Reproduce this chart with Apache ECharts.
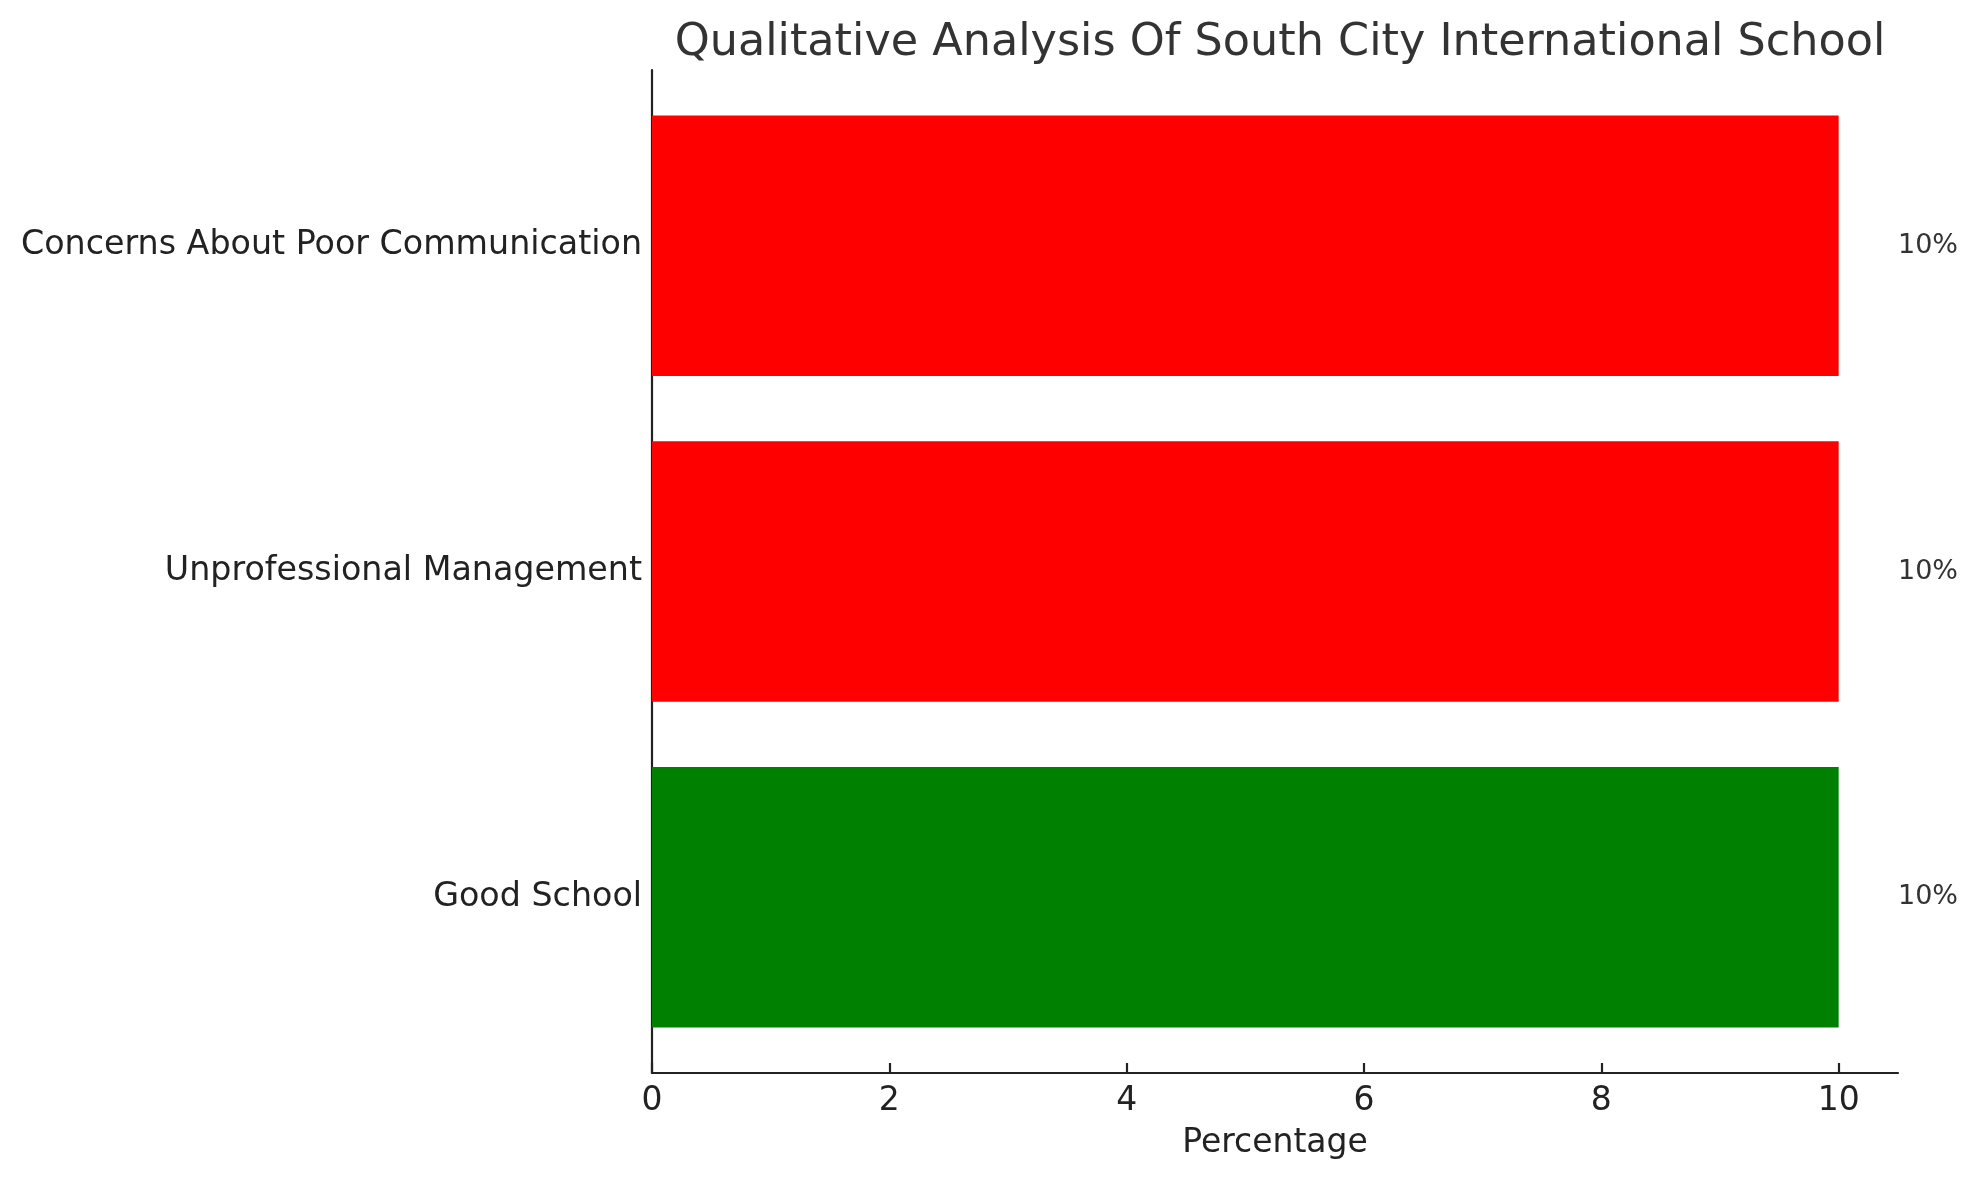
<!DOCTYPE html>
<html>
<head>
<meta charset="utf-8">
<script src="https://cdn.jsdelivr.net/npm/echarts@6/dist/echarts.min.js"></script>
<style>
  html, body { margin: 0; padding: 0; background: #fff; }
  #chart { width: 1979px; height: 1180px; }
</style>
</head>
<body>
<div id="chart"></div>
<script>
// bottom to top, like matplotlib barh
const categories = ['Good School', 'Unprofessional Management', 'Concerns About Poor Communication'];
const percentages = [10, 10, 10];
const barColors = ['#008000', '#ff0000', '#ff0000'];
const xTicks = [0, 2, 4, 6, 8, 10];

const chart = echarts.init(document.getElementById('chart'));
const font = 'DejaVu Sans';

const data = percentages.map((v, i) => ({ value: [v, i], itemStyle: { color: barColors[i] } }));

chart.setOption({
  animation: false,
  title: {
    text: 'Qualitative Analysis Of South City International School',
    left: 1275, top: 16, textAlign: 'center',
    textStyle: { fontFamily: font, fontSize: 44.5, fontWeight: 'normal', color: '#333' }
  },
  grid: { left: 652, right: 81, top: 70, bottom: 107, containLabel: false },
  xAxis: {
    type: 'value', min: 0, max: 10.5,
    name: 'Percentage', nameLocation: 'middle', nameGap: 54,
    nameTextStyle: { fontFamily: font, fontSize: 33, color: '#222' },
    splitLine: { show: false },
    axisLine: { show: true, onZero: false, lineStyle: { color: '#222', width: 2.2 } },
    axisTick: { show: true, inside: true, length: 10, customValues: xTicks, lineStyle: { color: '#222', width: 2.2 } },
    axisLabel: { customValues: xTicks, margin: 12, fontFamily: font, fontSize: 33, color: '#222' }
  },
  yAxis: {
    type: 'value', min: -0.54, max: 2.54,
    splitLine: { show: false },
    axisLine: { show: true, onZero: false, lineStyle: { color: '#222', width: 2.2 } },
    axisTick: { show: true, inside: true, length: 10, customValues: [0, 1, 2], lineStyle: { color: '#222', width: 2.2 } },
    axisLabel: {
      customValues: [0, 1, 2], margin: 10, padding: [8, 0, 0, 0],
      fontFamily: font, fontSize: 33.3, color: '#222',
      formatter: v => categories[Math.round(v)] || ''
    }
  },
  series: [{
    type: 'custom',
    data: data,
    encode: { x: 0, y: 1 },
    clip: false,
    renderItem: (params, api) => {
      const val = api.value(0), idx = api.value(1);
      const p0 = api.coord([0, idx + 0.4]);
      const p1 = api.coord([val, idx - 0.4]);
      const lp = api.coord([val + 0.5, idx]);
      return {
        type: 'group',
        children: [{
          type: 'rect',
          shape: { x: p0[0], y: p0[1], width: p1[0] - p0[0], height: p1[1] - p0[1] },
          style: { fill: api.visual('color') }
        }, {
          type: 'text',
          x: lp[0], y: lp[1],
          style: {
            text: val + '%', fontFamily: font, fontSize: 27, fill: '#333',
            align: 'left', verticalAlign: 'middle', padding: [6, 0, 0, 0]
          }
        }]
      };
    }
  }]
});
</script>
</body>
</html>
